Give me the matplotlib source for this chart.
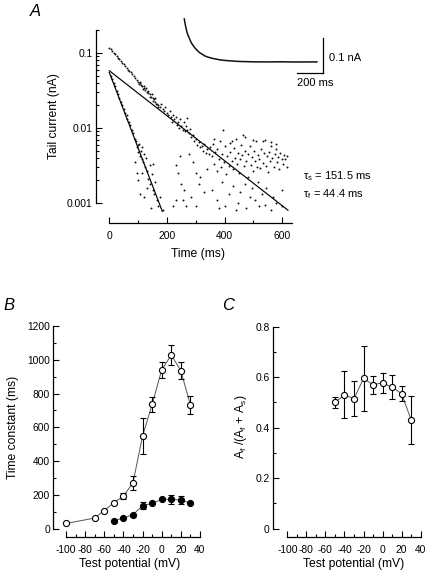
import matplotlib
matplotlib.use("Agg")
import matplotlib.pyplot as plt
from matplotlib.ticker import MultipleLocator, NullFormatter, FixedLocator

plt.rcParams['font.family'] = ['Liberation Sans', 'DejaVu Sans']
plt.rcParams['mathtext.default'] = 'regular'
plt.rcParams['axes.unicode_minus'] = False

# ---------------- Panel A data ----------------
# total tail current (upper dotted trace), ms / nA
total_t = [0, 5, 10, 15, 20, 25, 30, 35, 40, 45, 50, 55, 60, 65, 70, 75, 80, 85, 90, 95,
           100, 102, 105, 108, 110, 115, 118, 120, 122, 125, 128, 130, 133, 135, 140, 142,
           145, 148, 150, 152, 155, 158, 160, 162, 165, 168, 170]
total_i = [0.118, 0.112, 0.106, 0.101, 0.096, 0.091, 0.087, 0.082, 0.078, 0.074, 0.071,
           0.067, 0.064, 0.060, 0.057, 0.055, 0.052, 0.049, 0.047, 0.044, 0.041, 0.038,
           0.040, 0.041, 0.037, 0.036, 0.033, 0.034, 0.036, 0.032, 0.034, 0.030, 0.031,
           0.029, 0.028, 0.026, 0.026, 0.028, 0.025, 0.023, 0.024, 0.025, 0.022, 0.021,
           0.021, 0.019, 0.020]
# slow-phase dots (later part of the record)
slow_t = [175, 180, 185, 190, 195, 200, 205, 210, 215, 218, 222, 226, 230, 234, 238, 242,
          246, 250, 255, 258, 262, 266, 268, 270, 275, 280, 285, 290, 295, 300, 305, 310,
          315, 320, 325, 330, 335, 340, 345, 350, 275, 290, 300, 310, 285, 260, 250, 240,
          230, 265, 300, 330, 340, 315, 255, 220, 230, 245,
          355, 360, 362, 368, 372, 375, 380, 384, 388, 392, 396, 398, 402, 405, 410, 414,
          418, 420, 425, 428, 432, 436, 440, 443, 447, 450, 455, 458, 462, 465, 468, 472,
          476, 480, 483, 487, 490, 494, 498, 502, 505, 510, 513, 517, 520, 524, 528, 532,
          536, 540, 543, 547, 550, 555, 558, 562, 566, 570, 574, 578, 582, 586, 590, 594,
          598, 602, 606, 610, 615, 618,
          355, 372, 390, 400, 415, 430, 445, 455, 470, 475, 488, 495, 505, 515, 520, 530,
          540, 545, 560, 568, 580, 600, 380, 440, 600,
          365, 425, 470, 500, 535, 560, 580]
slow_i = [0.019, 0.021, 0.018, 0.017, 0.019, 0.016, 0.015, 0.017, 0.014, 0.012, 0.015,
          0.013, 0.014, 0.011, 0.012, 0.010, 0.013, 0.0105, 0.0095, 0.012, 0.009, 0.0105,
          0.0136, 0.0095, 0.0085, 0.0098, 0.0075, 0.008, 0.0068, 0.0071, 0.006, 0.0065,
          0.0055, 0.0058, 0.005, 0.0062, 0.0047, 0.0052, 0.0045, 0.0055, 0.0045, 0.0035,
          0.0025, 0.0018, 0.0012, 0.0015, 0.0018, 0.0025, 0.0011, 0.0009, 0.0009, 0.0014,
          0.0028, 0.0022, 0.0011, 0.0009, 0.0032, 0.0042,
          0.0042, 0.0061, 0.0033, 0.0048, 0.0027, 0.0052, 0.0038, 0.0066, 0.0030, 0.0045,
          0.0095, 0.0035, 0.0057, 0.0024, 0.0042, 0.0031, 0.0063, 0.0048, 0.0036, 0.0028,
          0.0054, 0.0040, 0.0071, 0.0033, 0.0046, 0.0025, 0.0038, 0.0060, 0.0043, 0.0080,
          0.0031, 0.0050, 0.0036, 0.0022, 0.0045, 0.0058, 0.0032, 0.0041, 0.0027, 0.0050,
          0.0036, 0.0066, 0.0030, 0.0044, 0.0038, 0.0029, 0.0052, 0.0034, 0.0046, 0.0069,
          0.0031, 0.0042, 0.0026, 0.0048, 0.0036, 0.0058, 0.0040, 0.0030, 0.0045, 0.0052,
          0.0035, 0.0041, 0.0028, 0.0047, 0.0038, 0.0033, 0.0044, 0.0039, 0.0030, 0.0042,
          0.0015, 0.0011, 0.0019, 0.0009, 0.0013, 0.0017, 0.0010, 0.0014, 0.0018, 0.00085,
          0.0012, 0.0016, 0.0011, 0.0019, 0.0009, 0.0013, 0.00095, 0.0016, 0.0008, 0.0012,
          0.0010, 0.0015, 0.00085, 0.0008, 0.0009,
          0.0072, 0.0068, 0.0075, 0.0070, 0.0066, 0.0064, 0.0062]
# fast-component dots (total minus slow fit)
fast_t = [5, 10, 15, 20, 25, 30, 35, 40, 45, 50, 55, 60, 62, 68, 72, 78, 82, 88, 92, 95, 98,
          100, 103, 106, 110, 113, 115, 118, 122, 125, 128, 132, 135, 140, 142, 148, 150,
          155, 160, 165, 170, 175, 185, 100, 108, 120, 95, 130, 145, 112, 150, 90]
fast_i = [0.050, 0.045, 0.040, 0.036, 0.031, 0.028, 0.025, 0.022, 0.020, 0.018, 0.016,
          0.015, 0.013, 0.012, 0.011, 0.0095, 0.0085, 0.0072, 0.0068, 0.0055, 0.0060,
          0.0048, 0.0062, 0.0042, 0.0050, 0.0038, 0.0056, 0.0035, 0.0045, 0.0030, 0.0040,
          0.0027, 0.0021, 0.0032, 0.0018, 0.0024, 0.0015, 0.0013, 0.0019, 0.0011, 0.0009,
          0.0012, 0.0008, 0.0020, 0.0013, 0.0012, 0.0025, 0.0016, 0.00085, 0.0025, 0.0033,
          0.0035]
# single-exponential fits (end points of straight lines on log axis)
fit_slow_t = [0, 620]
fit_slow_i = [0.058, 0.0008]
fit_fast_t = [0, 184]
fit_fast_i = [0.055, 0.00077]
tau_labels = ['τ$_s$ = 151.5 ms', 'τ$_f$ = 44.4 ms']

# inset raw trace (ms, nA)
trace_t = [0, 5, 13, 20, 28, 36, 44, 50, 59, 70, 82, 95, 105, 120, 143, 160, 182, 200,
           220, 250, 275, 300, 328, 380, 428, 528, 640, 736, 850, 1020]
trace_i = [0.143, 0.132, 0.117, 0.106, 0.097, 0.090, 0.083, 0.078, 0.072, 0.066, 0.060,
           0.055, 0.051, 0.046, 0.041, 0.037, 0.034, 0.032, 0.030, 0.028, 0.026, 0.025,
           0.0240, 0.0225, 0.0215, 0.0205, 0.0202, 0.0206, 0.0200, 0.0203]

# ---------------- Panel B data ----------------
slow_v = [-100, -70, -60, -50, -40, -30, -20, -10, 0, 10, 20, 30]
slow_tau = [31, 63, 107, 154, 193, 272, 549, 736, 941, 1028, 935, 732]
slow_err = [0, 0, 0, 0, 20, 40, 108, 45, 47, 59, 49, 55]
fast_v = [-50, -40, -30, -20, -10, 0, 10, 20, 30]
fast_tau = [47, 63, 83, 136, 150, 174, 174, 170, 152]
fast_err = [0, 0, 0, 22, 0, 0, 28, 26, 0]

# ---------------- Panel C data ----------------
ratio_v = [-50, -40, -30, -20, -10, 0, 10, 20, 30]
ratio = [0.50, 0.53, 0.515, 0.595, 0.57, 0.578, 0.56, 0.535, 0.43]
ratio_err = [0.02, 0.093, 0.07, 0.13, 0.035, 0.04, 0.048, 0.03, 0.095]

W, H = 429, 582
fig = plt.figure(figsize=(W / 100, H / 100), dpi=100)


def px_axes(left, top, right, bottom):
    return fig.add_axes([left / W, 1 - bottom / H, (right - left) / W, (bottom - top) / H])


PT = 72 / 100.0  # points per pixel
TICK_FS = 7.4
LAB_FS = 8.7


def style(ax):
    for s in ('top', 'right'):
        ax.spines[s].set_visible(False)
    for s in ('left', 'bottom'):
        ax.spines[s].set_linewidth(0.9)
    ax.tick_params(which='both', direction='in', width=0.8, labelsize=TICK_FS, color='k')
    ax.tick_params(which='major', length=4)
    ax.tick_params(which='minor', length=2.4)
    ax.tick_params(axis='y', pad=2.2)
    ax.tick_params(axis='x', pad=5.5)
    ax.patch.set_visible(False)


# ---------------- Panel A ----------------
axA = px_axes(109.3, 30.4, 292.3, 223)
axA.set_yscale('log')
axA.set_xlim(0, 635)
axA.set_ylim(0.00054, 0.2)
style(axA)
axA.spines['left'].set_position(('outward', 13.6 * PT))
axA.spines['left'].set_bounds(0.001, 0.2)
axA.spines['bottom'].set_bounds(0, 635)
axA.yaxis.set_major_locator(FixedLocator([0.001, 0.01, 0.1]))
axA.set_yticklabels(['0.001', '0.01', '0.1'])
minor_a = [m * d for d in (0.001, 0.01) for m in range(2, 10)] + [0.2]
axA.yaxis.set_minor_locator(FixedLocator(minor_a))
axA.yaxis.set_minor_formatter(NullFormatter())
axA.xaxis.set_major_locator(MultipleLocator(200))
axA.xaxis.set_minor_locator(MultipleLocator(100))
dot = dict(ls='none', marker='o', ms=1.4, mew=0, color='#111111', clip_on=False)
axA.plot(total_t, total_i, **dot)
axA.plot(slow_t, slow_i, **dot)
axA.plot(fast_t, fast_i, **dot)
axA.plot(fit_slow_t, fit_slow_i, color='k', lw=0.85, clip_on=False)
axA.plot(fit_fast_t, fit_fast_i, color='k', lw=0.85, clip_on=False)
axA.set_ylabel('Tail current (nA)', fontsize=LAB_FS)
axA.yaxis.set_label_coords(-0.269, 0.556)
axA.set_xlabel('Time (ms)', fontsize=LAB_FS)
axA.xaxis.set_label_coords(0.486, -0.13)
axA.text(1.06, 0.245, tau_labels[0], transform=axA.transAxes, fontsize=8, va='center', ha='left')
axA.text(1.06, 0.15, tau_labels[1], transform=axA.transAxes, fontsize=8, va='center', ha='left')

# inset trace
axI = px_axes(180, 12, 340, 90)
axI.set_xlim((180 - 184.3) * 7.69, (340 - 184.3) * 7.69)
axI.set_ylim(0.02 + (62 - 90) / 350, 0.02 + (62 - 12) / 350)
axI.axis('off')
axI.plot(trace_t, trace_i, color='#111111', lw=1.1)
axI.plot([1067, 1067], [-0.0114, 0.0886], color='k', lw=0.9)
axI.plot([867, 1067], [-0.0114, -0.0114], color='k', lw=0.9)
axI.text(1113, 0.0314, '0.1 nA', fontsize=8, va='center', ha='left')
axI.text(866, -0.040, '200 ms', fontsize=8, va='center', ha='left', clip_on=False)

# ---------------- Panel B ----------------
axB = px_axes(66, 326, 200, 528.7)
axB.set_xlim(-100, 40)
axB.set_ylim(0, 1200)
style(axB)
axB.spines['left'].set_position(('outward', 13 * PT))
axB.spines['bottom'].set_position(('outward', 8.6 * PT))
axB.spines['left'].set_bounds(0, 1200)
axB.spines['bottom'].set_bounds(-100, 40)
axB.yaxis.set_major_locator(MultipleLocator(200))
axB.yaxis.set_minor_locator(MultipleLocator(100))
axB.xaxis.set_major_locator(MultipleLocator(20))
axB.xaxis.set_minor_locator(MultipleLocator(10))
axB.plot(slow_v, slow_tau, color='#555555', lw=0.7, zorder=2, clip_on=False)
axB.plot(fast_v, fast_tau, color='#555555', lw=0.7, zorder=2, clip_on=False)
axB.errorbar(slow_v, slow_tau, yerr=slow_err, fmt='none', ecolor='k', elinewidth=0.8,
             capsize=2.5, capthick=0.8, zorder=3, clip_on=False)
axB.errorbar(fast_v, fast_tau, yerr=fast_err, fmt='none', ecolor='k', elinewidth=0.8,
             capsize=2.5, capthick=0.8, zorder=3, clip_on=False)
axB.plot(slow_v, slow_tau, ls='none', marker='o', ms=4.4, mfc='white', mec='k', mew=0.8,
         zorder=4, clip_on=False)
axB.plot(fast_v, fast_tau, ls='none', marker='o', ms=4.4, mfc='k', mec='k', mew=0.8,
         zorder=4, clip_on=False)
axB.set_ylabel('Time constant (ms)', fontsize=LAB_FS)
axB.yaxis.set_label_coords(-0.35, 0.502)
axB.set_xlabel('Test potential (mV)', fontsize=LAB_FS)
axB.xaxis.set_label_coords(0.478, -0.145)

# ---------------- Panel C ----------------
axC = px_axes(287.3, 326.7, 420.7, 528.7)
axC.set_xlim(-100, 40)
axC.set_ylim(0, 0.8)
style(axC)
axC.spines['left'].set_position(('outward', 14.6 * PT))
axC.spines['bottom'].set_position(('outward', 8.6 * PT))
axC.spines['left'].set_bounds(0, 0.8)
axC.spines['bottom'].set_bounds(-100, 40)
axC.yaxis.set_major_locator(MultipleLocator(0.2))
axC.yaxis.set_minor_locator(MultipleLocator(0.1))
axC.set_yticks([0, 0.2, 0.4, 0.6, 0.8])
axC.set_yticklabels(['0', '0.2', '0.4', '0.6', '0.8'])
axC.xaxis.set_major_locator(MultipleLocator(20))
axC.xaxis.set_minor_locator(MultipleLocator(10))
axC.plot(ratio_v, ratio, color='#555555', lw=0.7, zorder=2)
axC.errorbar(ratio_v, ratio, yerr=ratio_err, fmt='none', ecolor='k', elinewidth=0.8,
             capsize=2.5, capthick=0.8, zorder=3)
axC.plot(ratio_v, ratio, ls='none', marker='o', ms=4.4, mfc='white', mec='k', mew=0.8, zorder=4)
axC.set_ylabel('A$_f$ /(A$_f$ + A$_s$)', fontsize=LAB_FS)
axC.yaxis.set_label_coords(-0.287, 0.503)
axC.set_xlabel('Test potential (mV)', fontsize=LAB_FS)
axC.xaxis.set_label_coords(0.495, -0.145)

# panel letters
for lab, x, y in (('A', 30, 11), ('B', 3, 305.5), ('C', 222.5, 305)):
    fig.text(x / W, 1 - y / H, lab, fontsize=12, style='italic', ha='left', va='center')

fig.savefig('out.png', dpi=100)
